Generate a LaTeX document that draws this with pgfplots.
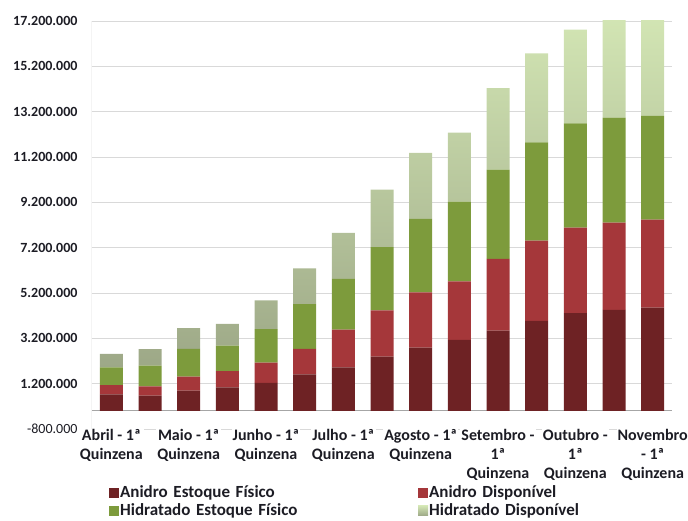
\documentclass[border=0pt]{standalone}
\usepackage{pgfplots}
\pgfplotsset{compat=1.18}
\usepackage{fontspec}
\setmainfont{Carlito}

\definecolor{anidroEF}{HTML}{6E2224}
\definecolor{anidroD}{HTML}{A5373A}
\definecolor{hidrEF}{HTML}{7D9B3C}
\definecolor{hidrDtop}{HTML}{D3E6B4}
\definecolor{hidrDbot}{HTML}{9DA887}
\definecolor{gridc}{HTML}{D9D9D9}
\definecolor{axisc}{HTML}{A6A6A6}
\definecolor{txt}{HTML}{1C1C24}

% Estoques de etanol por quinzena (litros)
\pgfplotstableread{
x  anef    anD     hief    hiD
0  730000  400000  790000  590000
1  670000  410000  920000  720000
2  890000  620000  1220000 920000
3  1040000 710000  1130000 960000
4  1240000 890000  1480000 1260000
5  1610000 1120000 1980000 1580000
6  1920000 1660000 2240000 2030000
7  2390000 2040000 2790000 2540000
8  2790000 2440000 3240000 2910000
9  3130000 2580000 3520000 3050000
10 3540000 3160000 3940000 3600000
11 3970000 3540000 4330000 3930000
12 4310000 3770000 4600000 4140000
13 4460000 3840000 4640000 4500000
14 4560000 3880000 4570000 4600000
}\dados

\begin{document}
\begin{tikzpicture}
\path[use as bounding box] (0,0) rectangle (688pt,521pt);
\begin{axis}[
  at={(92pt,92pt)}, anchor=south west,
  scale only axis, width=580pt, height=408pt,
  xmin=-0.5, xmax=14.5,
  ymin=-800000, ymax=17200000,
  ybar stacked, bar width=23pt,
  axis line style={draw=none},
  major tick length=0pt,
  scaled y ticks=false,
  ytick={-800000,1200000,3200000,5200000,7200000,9200000,11200000,13200000,15200000,17200000},
  yticklabels={{\mdseries -800.000},1.200.000,3.200.000,5.200.000,7.200.000,9.200.000,11.200.000,13.200.000,15.200.000,17.200.000},
  yticklabel style={font=\fontsize{14}{17}\selectfont\bfseries, text=txt, xshift=-11pt},
  ymajorgrids, grid style={gridc, line width=0.8pt},
  extra y ticks={0}, extra y tick labels={},
  extra y tick style={grid style={axisc, line width=1pt}},
  xtick={0,2,4,6,8,10,12,14},
  xticklabels={
    {Abril - 1ª\\Quinzena},
    {Maio - 1ª\\Quinzena},
    {Junho - 1ª\\Quinzena},
    {Julho - 1ª\\Quinzena},
    {Agosto - 1ª\\Quinzena},
    {Setembro -\\1ª\\Quinzena},
    {Outubro -\\1ª\\Quinzena},
    {Novembro\\- 1ª\\Quinzena}},
  xticklabel style={font=\fontsize{16}{19}\selectfont\bfseries, text=txt,
    align=center, fill=white, inner sep=1pt, yshift=1pt},
  legend columns=2,
  legend style={draw=none, fill=none,
    at={(axis description cs:0.024,-0.132)}, anchor=north west,
    font=\fontsize{17}{19}\selectfont\bfseries, text=txt,
    nodes={text width=294pt, align=left, inner sep=1pt},
    /tikz/every even column/.append style={column sep=3pt},
    row sep=2.5pt},
  legend image code/.code={\fill[#1] (-1pt,-5pt) rectangle (9pt,5pt);},
]
\addplot[fill=anidroEF, draw=none] table[x=x, y=anef] {\dados};
\addplot[fill=anidroD, draw=none] table[x=x, y=anD] {\dados};
\addplot[fill=hidrEF, draw=none] table[x=x, y=hief] {\dados};
\addplot[top color=hidrDtop, bottom color=hidrDbot, draw=none] table[x=x, y=hiD] {\dados};
\legend{Anidro Estoque Físico, Anidro Disponível, Hidratado Estoque Físico, Hidratado Disponível}
\draw[axisc, line width=1pt] (rel axis cs:0,0) -- (rel axis cs:0,1);
\end{axis}
\end{tikzpicture}
\end{document}
